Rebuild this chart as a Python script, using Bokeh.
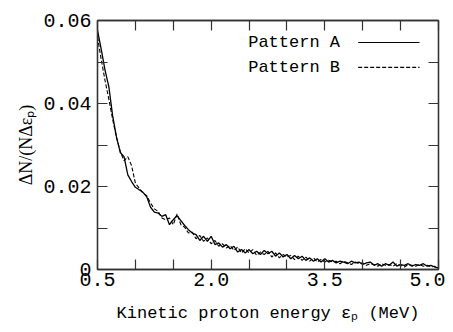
import numpy as np
from bokeh.plotting import figure
from bokeh.models import (Range1d, FixedTicker, LinearAxis, CustomJSTickFormatter,
                          Label, Arrow)
from bokeh.embed import file_html
from bokeh.resources import INLINE

# ---- data ----
energy = np.linspace(0.5, 5.0, 91)  # MeV, bin grid

pattern_a = [
    0.0576, 0.0530, 0.0480, 0.0440, 0.0370, 0.0320, 0.0282, 0.0272, 0.0228, 0.0212,
    0.0198, 0.0192, 0.0186, 0.0175, 0.0150, 0.0138, 0.0136, 0.0128, 0.0132, 0.0108,
    0.0120, 0.0130, 0.0118, 0.0106, 0.0096, 0.0088, 0.0084, 0.0070, 0.0080, 0.0068,
    0.0080, 0.0060, 0.0064, 0.0054, 0.0060, 0.0050, 0.0056, 0.0042, 0.0048, 0.0040,
    0.0048, 0.0038, 0.0044, 0.0036, 0.0046, 0.0038, 0.0044, 0.0032, 0.0040, 0.0030,
    0.0036, 0.0026, 0.0034, 0.0026, 0.0032, 0.0022, 0.0028, 0.0020, 0.0026, 0.0018,
    0.0026, 0.0018, 0.0022, 0.0016, 0.0020, 0.0018, 0.0014, 0.0020, 0.0016, 0.0018,
    0.0012, 0.0016, 0.0018, 0.0010, 0.0014, 0.0008, 0.0014, 0.0010, 0.0018, 0.0008,
    0.0012, 0.0010, 0.0014, 0.0008, 0.0012, 0.0010, 0.0014, 0.0008, 0.0010, 0.0006,
    0.0004,
]

pattern_b = [
    0.0560, 0.0505, 0.0455, 0.0410, 0.0362, 0.0318, 0.0285, 0.0262, 0.0272, 0.0250,
    0.0208, 0.0196, 0.0184, 0.0178, 0.0160, 0.0146, 0.0140, 0.0124, 0.0120, 0.0124,
    0.0108, 0.0134, 0.0108, 0.0102, 0.0088, 0.0090, 0.0074, 0.0082, 0.0068, 0.0076,
    0.0062, 0.0070, 0.0056, 0.0062, 0.0052, 0.0058, 0.0046, 0.0054, 0.0040, 0.0050,
    0.0040, 0.0048, 0.0034, 0.0042, 0.0036, 0.0044, 0.0030, 0.0040, 0.0028, 0.0036,
    0.0030, 0.0034, 0.0024, 0.0032, 0.0022, 0.0030, 0.0020, 0.0028, 0.0018, 0.0024,
    0.0018, 0.0022, 0.0018, 0.0020, 0.0014, 0.0020, 0.0016, 0.0012, 0.0018, 0.0014,
    0.0016, 0.0010, 0.0014, 0.0012, 0.0008, 0.0014, 0.0010, 0.0012, 0.0008, 0.0014,
    0.0010, 0.0006, 0.0012, 0.0010, 0.0008, 0.0012, 0.0008, 0.0010, 0.0006, 0.0008,
    0.0004,
]

x_major = [0.5, 2.0, 3.5, 5.0]
x_minor = [1.0, 1.5, 2.5, 3.0, 4.0, 4.5]
y_major = [0.0, 0.02, 0.04, 0.06]
y_minor = [0.01, 0.03, 0.05]

series_names = ["Pattern A", "Pattern B"]

MONO = "Liberation Mono"
SERIF = "Liberation Serif"

p = figure(width=445, height=332,
           x_range=Range1d(0.5, 5.0), y_range=Range1d(0.0, 0.06),
           output_backend="svg", toolbar_location=None,
           x_axis_type=None, y_axis_type=None,
           min_border_left=97, min_border_right=7,
           min_border_top=20, min_border_bottom=63)

p.xgrid.visible = False
p.ygrid.visible = False
p.outline_line_color = "#333333"
p.outline_line_width = 1.3
p.background_fill_color = "white"
p.border_fill_color = "white"


def style_axis(ax, ticker, show_labels):
    ax.ticker = ticker
    ax.major_tick_in = 10
    ax.major_tick_out = 0
    ax.minor_tick_in = 10
    ax.minor_tick_out = 0
    ax.major_tick_line_color = "#333333"
    ax.minor_tick_line_color = "#333333"
    ax.major_tick_line_width = 1.2
    ax.minor_tick_line_width = 1.2
    ax.axis_line_color = "#333333"
    ax.axis_line_width = 1.3
    if not show_labels:
        ax.major_label_text_font_size = "0px"
        ax.major_label_text_alpha = 0
        ax.major_label_standoff = 0


xt = FixedTicker(ticks=x_major, minor_ticks=x_minor)
yt = FixedTicker(ticks=y_major, minor_ticks=y_minor)

xb = LinearAxis(axis_label="Kinetic proton energy εₚ (MeV)")
style_axis(xb, xt, True)
xb.formatter = CustomJSTickFormatter(code="return tick.toFixed(1);")
xb.major_label_text_font = MONO
xb.major_label_text_font_size = "20px"
xb.major_label_text_color = "black"
xb.major_label_standoff = 3
xb.axis_label_text_font = MONO
xb.axis_label_text_font_size = "17px"
xb.axis_label_text_font_style = "normal"
xb.axis_label_text_color = "black"
xb.axis_label_standoff = 15
p.add_layout(xb, "below")

yl = LinearAxis(axis_label="ΔN/(NΔεₚ)")
style_axis(yl, yt, True)
yl.formatter = CustomJSTickFormatter(code="return tick == 0 ? '0' : tick.toFixed(2);")
yl.major_label_text_font = MONO
yl.major_label_text_font_size = "20px"
yl.major_label_text_color = "black"
yl.major_label_standoff = 6
yl.axis_label_text_font = SERIF
yl.axis_label_text_font_size = "18px"
yl.axis_label_text_font_style = "normal"
yl.axis_label_text_color = "black"
yl.axis_label_standoff = 4
p.add_layout(yl, "left")

xa = LinearAxis()
style_axis(xa, FixedTicker(ticks=x_major, minor_ticks=x_minor), False)
p.add_layout(xa, "above")

yr = LinearAxis()
style_axis(yr, FixedTicker(ticks=y_major, minor_ticks=y_minor), False)
p.add_layout(yr, "right")

# curves
p.line(energy, pattern_a, line_color="black", line_width=1.3)
p.line(energy, pattern_b, line_color="black", line_width=1.1, line_dash="4 2")

# legend: text on the left, line sample on the right
leg_y = [0.0547, 0.0487]
leg_dash = ["solid", "4 2"]
for name, yy, dash in zip(series_names, leg_y, leg_dash):
    p.add_layout(Label(x=3.70, y=yy, text=name, text_align="right",
                       text_baseline="middle", text_font=MONO,
                       text_font_size="17px", text_color="black"))
    p.add_layout(Arrow(end=None, x_start=3.94, y_start=yy, x_end=4.75, y_end=yy,
                       line_color="black", line_width=1.2, line_dash=dash))

open("out.html", "w").write(file_html(p, INLINE))
